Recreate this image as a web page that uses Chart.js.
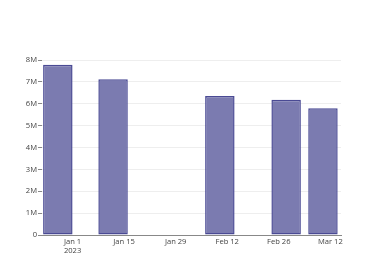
<!DOCTYPE html>
<html>
<head>
<meta charset="utf-8">
<script src="https://cdn.jsdelivr.net/npm/chart.js@4"></script>
<style>html,body{margin:0;background:#fff}</style>
</head>
<body>
<canvas id="chart" width="380" height="280"></canvas>
<script>
const DATES = ['2022-12-28', '2023-01-12', '2023-02-10', '2023-02-28', '2023-03-10'];
const VALUES = [7.78e6, 7.12e6, 6.36e6, 6.18e6, 5.80e6];
const TICK_DATES = ['2023-01-01', '2023-01-15', '2023-01-29', '2023-02-12', '2023-02-26', '2023-03-12'];
const MONTHS = ['Jan', 'Feb', 'Mar', 'Apr', 'May', 'Jun', 'Jul', 'Aug', 'Sep', 'Oct', 'Nov', 'Dec'];

const FONT = { family: "'Open Sans', sans-serif", size: 7.6 };
const ORIGIN = Date.parse('2023-01-01');
const day = s => (Date.parse(s) - ORIGIN) / 864e5;

function dayLabel(d, first) {
    const dt = new Date(ORIGIN + d * 864e5);
    const txt = MONTHS[dt.getUTCMonth()] + ' ' + dt.getUTCDate();
    return first ? [txt, String(dt.getUTCFullYear())] : txt;
}

const tickDays = TICK_DATES.map(day);

new Chart(document.getElementById('chart'), {
    type: 'bar',
    data: {
        datasets: [{
            data: DATES.map((d, i) => ({ x: day(d), y: VALUES[i] })),
            backgroundColor: '#7b7bb0',
            borderColor: '#4a4a94',
            borderWidth: 1.5,
            borderSkipped: false,
            barPercentage: 0.8,
            categoryPercentage: 1.0
        }]
    },
    options: {
        responsive: false,
        animation: false,
        devicePixelRatio: 1,
        layout: { padding: { top: 60, right: 39, bottom: 20, left: 0 } },
        plugins: { legend: { display: false }, tooltip: { enabled: false } },
        scales: {
            x: {
                type: 'linear',
                offset: false,
                min: -8.3,
                max: 72.9,
                afterBuildTicks: s => { s.ticks = tickDays.map(v => ({ value: v })); },
                afterFit: s => { s.height = 25; },
                grid: { display: false, drawTicks: false, offset: false },
                border: { display: true, color: '#888888', width: 1 },
                ticks: {
                    color: '#444444',
                    font: FONT,
                    padding: 2,
                    maxRotation: 0,
                    autoSkip: false,
                    callback: (v, i) => dayLabel(v, i === 0)
                }
            },
            y: {
                min: 0,
                max: 8e6,
                afterFit: s => { s.width = 42; },
                grid: { color: '#eeeeee', drawTicks: true, tickLength: 4, tickColor: '#888888' },
                border: { display: false },
                ticks: {
                    stepSize: 1e6,
                    color: '#444444',
                    font: FONT,
                    padding: 1,
                    callback: v => v === 0 ? '0' : (v / 1e6) + 'M'
                }
            }
        }
    }
});
</script>
</body>
</html>
